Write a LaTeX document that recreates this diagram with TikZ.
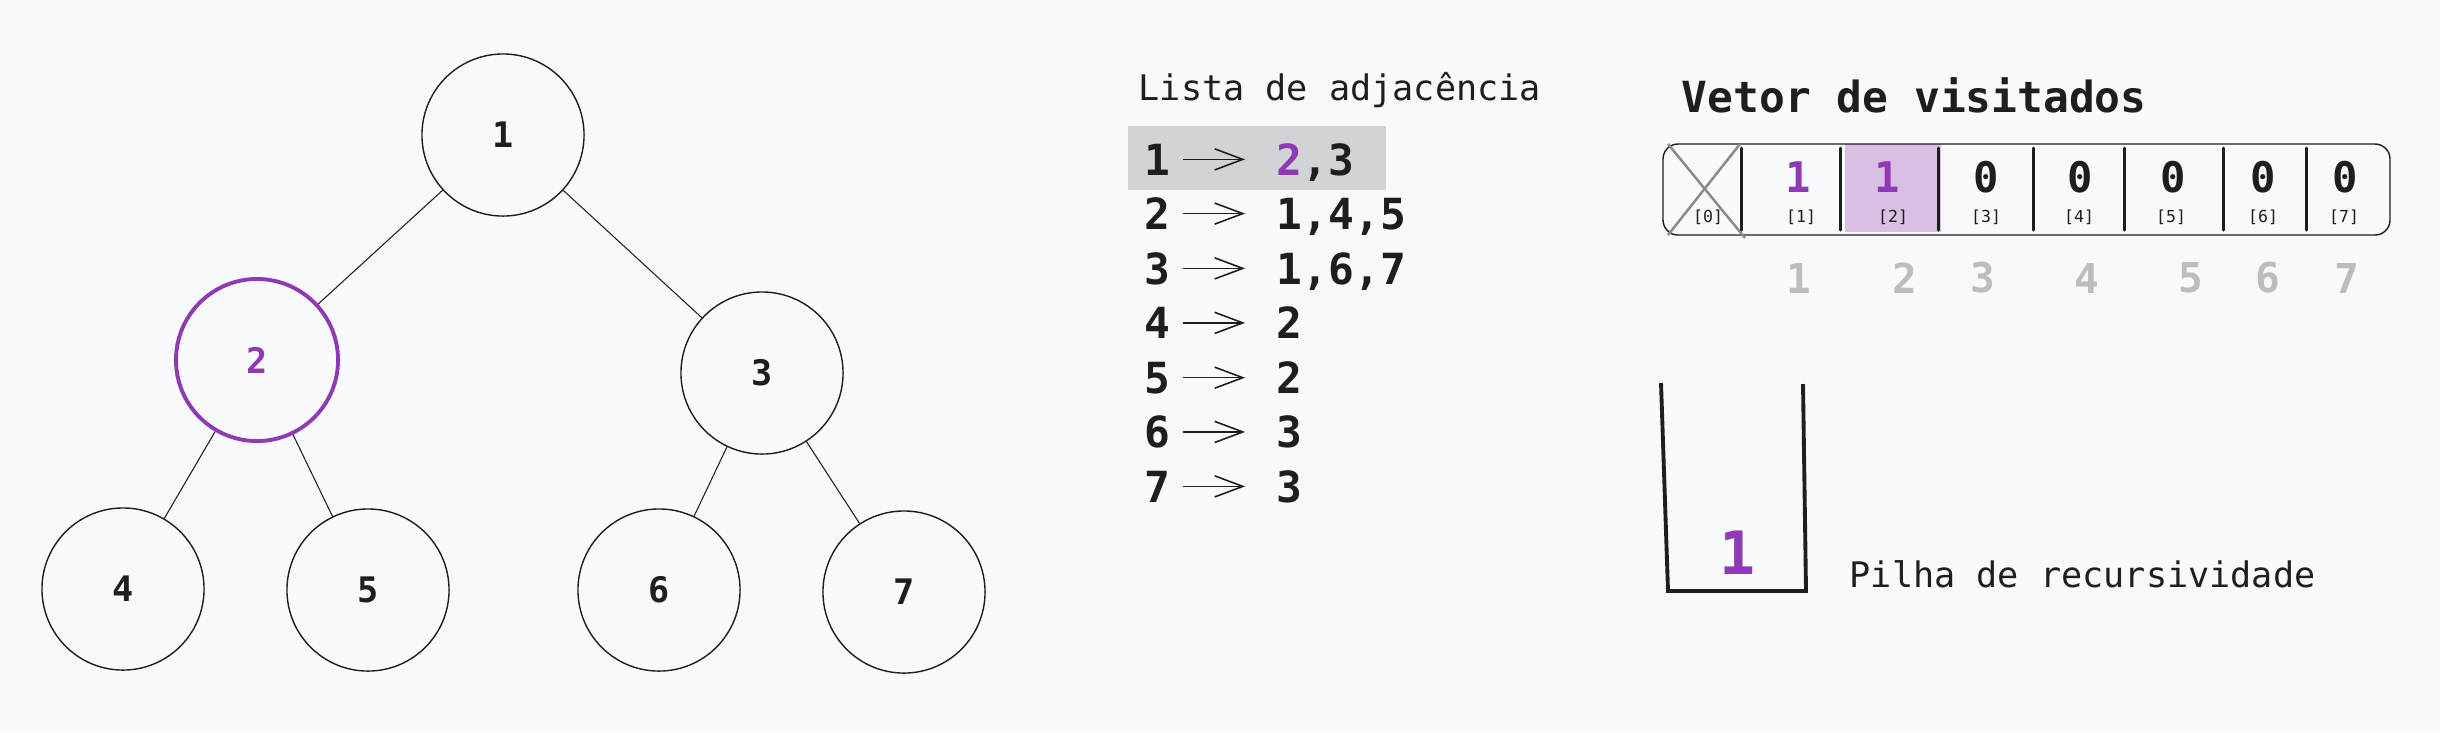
\documentclass[tikz,border=0pt]{standalone}
\usepackage{fontspec}
\setmonofont{DejaVu Sans Mono}
\usetikzlibrary{arrows.meta}

\definecolor{paper}{HTML}{F8F9FA}
\definecolor{ink}{HTML}{1E1E1E}
\definecolor{visited}{HTML}{9039B5}
\definecolor{visitedbg}{HTML}{D8BFE3}
\definecolor{rowbg}{HTML}{D2D3D5}
\definecolor{crossgray}{HTML}{8A8A8A}
\definecolor{idxgray}{HTML}{BDBDBD}

\newcommand{\fsz}[1]{\fontsize{#1}{#1}\selectfont}

\begin{document}
\begin{tikzpicture}[x=0.01cm,y=-0.01cm,
    vertex/.style={circle,draw=ink,line width=0.4pt,minimum size=1.62cm,inner sep=0pt,
        font=\ttfamily\bfseries\fsz{10},text=ink},
    current/.style={draw=visited,text=visited,line width=1.1pt},
    edge/.style={draw=ink,line width=0.3pt},
    smalltitle/.style={font=\ttfamily\fsz{10},text=ink,inner sep=0pt,anchor=base west},
    listtxt/.style={font=\ttfamily\bfseries\fsz{12.2},text=ink,inner sep=0pt,anchor=base west},
    listarrow/.style={draw=ink,line width=0.45pt,-{Straight Barb[length=8pt,width=6pt]},
        shorten <=3.4pt,shorten >=8.8pt},
    bit/.style={font=\ttfamily\bfseries\fsz{12},inner sep=0pt},
    idx/.style={font=\ttfamily\fsz{4.7},text=ink,inner sep=0pt},
    vertnum/.style={font=\ttfamily\bfseries\fsz{11.7},text=idxgray,inner sep=0pt},
    divider/.style={draw=ink,line width=0.85pt,line cap=round}]

    % Page and background
    \useasboundingbox (0,0) rectangle (2440,732);
    \fill[paper] (0,0) rectangle (2440,732);

    % Tree
    \node[vertex] (n1) at (503,135) {1};
    \node[vertex,current] (n2) at (257,360) {2};
    \node[vertex] (n3) at (762,373) {3};
    \node[vertex] (n4) at (123,589) {4};
    \node[vertex] (n5) at (368,590) {5};
    \node[vertex] (n6) at (659,590) {6};
    \node[vertex] (n7) at (904,592) {7};
    \foreach \a/\b in {n1/n2, n1/n3, n2/n4, n2/n5, n3/n6, n3/n7}
        \draw[edge] (\a) -- (\b);

    % Adjacency list
    \node[smalltitle] (listtitle) at (1138,100) {Lista de adjac\^encia};
    \fill[rowbg] (1128,126) rectangle (1386,190); % current row
    \foreach \k/\adj [count=\r from 0] in {1/{\textcolor{visited}{2},3}, 2/{1,4,5}, 3/{1,6,7},
            4/{2}, 5/{2}, 6/{3}, 7/{3}} {
        \pgfmathsetmacro\yy{175+54.5*\r}
        \node[listtxt] (k\k) at (1144,\yy) {\k};
        \node[listtxt] (v\k) at (1276,\yy) {\adj};
        \draw[listarrow] (k\k.east) -- (k\k.east -| v\k.west);
    }

    % Visited vector
    \node[listtxt] (vectitle) at (1681,112) {Vetor de visitados};
    \fill[visitedbg] (1845,144) rectangle (1941,232); % cell [2]
    \draw[ink,line width=0.4pt,rounded corners=0.15cm] (1663,144) rectangle (2390,235);
    \draw[crossgray,line width=0.7pt] (1668,144) -- (1745,238);
    \draw[crossgray,line width=0.7pt] (1740,144) -- (1668,235);
    \foreach \x in {1741,1840,1938,2033,2124,2223,2306}
        \draw[divider] (\x,148) -- (\x,230);
    \foreach \i/\x/\col/\v in {1/1798/visited/1, 2/1887/visited/1, 3/1986/ink/0, 4/2080/ink/0,
            5/2173/ink/0, 6/2263/ink/0, 7/2345/ink/0}
        \node[bit,text=\col] (bit\i) at (\x,177) {\v};
    \foreach \i/\x in {0/1708, 1/1801, 2/1893, 3/1986, 4/2079, 5/2171, 6/2263, 7/2344}
        \node[idx] (idx\i) at (\x,217) {[\i]};
    \foreach \i/\x in {1/1799, 2/1905, 3/1983, 4/2087, 5/2191, 6/2268, 7/2347}
        \node[vertnum] (num\i) at (\x,278) {\i};

    % Recursion stack
    \draw[ink,line width=1.1pt] (1661,383) -- (1668,591) -- (1806,591) -- (1803,384);
    \node[font=\ttfamily\bfseries\fsz{17},text=visited,inner sep=0pt] (top) at (1737,553) {1};
    \node[smalltitle] (stacklabel) at (1849,587) {Pilha de recursividade};

\end{tikzpicture}
\end{document}
